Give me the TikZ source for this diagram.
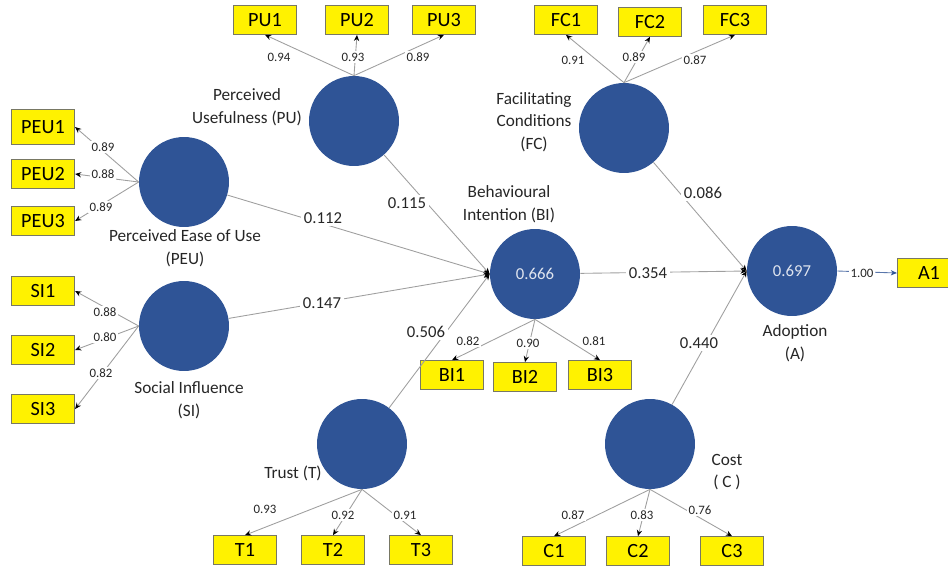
\documentclass[tikz,border=0pt]{standalone}
\usepackage{fontspec}
\setmainfont{Carlito}
\usetikzlibrary{arrows.meta}
\definecolor{lvblue}{RGB}{47,84,150}
\definecolor{boxline}{RGB}{120,120,100}

\begin{document}
\begin{tikzpicture}[x=0.02cm,y=-0.02cm,font=\fontsize{9.8}{12.8}\selectfont,
    latent/.style={circle,fill=lvblue,minimum size=1.8cm,inner sep=0pt,text=white!85!lvblue,font=\fontsize{9.5}{11}\selectfont},
    indic/.style={draw=boxline,fill=yellow,minimum width=1.27cm,minimum height=0.58cm,inner sep=0pt,font=\fontsize{11.5}{12}\selectfont},
    load/.style={fill=white,inner sep=1pt,text=black!85,font=\fontsize{7.3}{8}\selectfont},
    coef/.style={fill=white,inner sep=1.5pt,text=black!85,font=\fontsize{9.5}{10}\selectfont},
    lvname/.style={align=center,text=black!85},
    edge/.style={draw=gray!75,line width=0.5pt,-{Stealth[black,length=3.5pt,width=3pt]}}]
                \useasboundingbox (0,0) rectangle (948,566);
                \clip (0,0) rectangle (948,566);
                % latent variables
                \node[latent] (PEU) at (184,182) {};
                \node[latent] (SI) at (184,326) {};
                \node[latent] (PU) at (354,121) {};
                \node[latent] (FC) at (624,128) {};
                \node[latent] (BI) at (535,274) {0.666};
                \node[latent] (A) at (792,271) {0.697};
                \node[latent] (T) at (362,444) {};
                \node[latent] (C) at (650,444) {};
                % indicators
                \node[indic,minimum height=0.7cm] (PEU1) at (43,127) {PEU1};
                \node[indic] (PEU2) at (43,174) {PEU2};
                \node[indic] (PEU3) at (43,221) {PEU3};
                \node[indic] (SI1) at (43,291) {SI1};
                \node[indic] (SI2) at (43,350) {SI2};
                \node[indic] (SI3) at (43,409) {SI3};
                \node[indic] (PU1) at (265,20) {PU1};
                \node[indic] (PU2) at (357,20) {PU2};
                \node[indic] (PU3) at (444,20) {PU3};
                \node[indic] (FC1) at (566,20) {FC1};
                \node[indic] (FC2) at (650,22) {FC2};
                \node[indic] (FC3) at (735,20) {FC3};
                \node[indic] (BI1) at (452,375) {BI1};
                \node[indic] (BI2) at (525,377) {BI2};
                \node[indic] (BI3) at (600,375) {BI3};
                \node[indic] (A1) at (929,273) {A1};
                \node[indic] (T1) at (245,550) {T1};
                \node[indic] (T2) at (333,550) {T2};
                \node[indic] (T3) at (421,550) {T3};
                \node[indic] (C1) at (554,551) {C1};
                \node[indic] (C2) at (638,551) {C2};
                \node[indic] (C3) at (732,551) {C3};
                % outer model
                \foreach \i in {1,2,3} {
                    \draw[edge] (PEU.west) -- (PEU\i.east);
                    \draw[edge] (SI.west) -- (SI\i.east);
                    \draw[edge] (PU.north) -- (PU\i.south);
                    \draw[edge] (FC.north) -- (FC\i.south);
                    \draw[edge] (BI.south) -- (BI\i.north);
                    \draw[edge] (T.south) -- (T\i.north);
                    \draw[edge] (C.south) -- (C\i.north);
                }
                \draw[draw=lvblue!80,line width=0.5pt,-{Stealth[lvblue,length=3.5pt,width=3pt]}] (A.east) -- (A1.west);
                % inner model
                \draw[edge] (PEU) -- (BI.west);
                \draw[edge] (PU) -- (BI.west);
                \draw[edge] (SI) -- (BI.west);
                \draw[edge] (T) -- (BI.west);
                \draw[edge] (BI) -- (A.west);
                \draw[edge] (FC) -- (A.west);
                \draw[edge] (C) -- (A.west);
                % loadings
                \node[load] (lPEU1) at (103,147) {0.89};
                \node[load] (lPEU2) at (103,174) {0.88};
                \node[load] (lPEU3) at (101,207) {0.89};
                \node[load] (lSI1) at (105,312) {0.88};
                \node[load] (lSI2) at (105,337) {0.80};
                \node[load] (lSI3) at (101,373) {0.82};
                \node[load] (lPU1) at (279,57) {0.94};
                \node[load] (lPU2) at (353,57) {0.93};
                \node[load] (lPU3) at (418,57) {0.89};
                \node[load] (lFC1) at (573,60) {0.91};
                \node[load] (lFC2) at (634,57) {0.89};
                \node[load] (lFC3) at (695,60) {0.87};
                \node[load] (lBI1) at (468,341) {0.82};
                \node[load] (lBI2) at (528,343) {0.90};
                \node[load] (lBI3) at (594,341) {0.81};
                \node[load] (lT1) at (265,509) {0.93};
                \node[load] (lT2) at (343,515) {0.92};
                \node[load] (lT3) at (405,515) {0.91};
                \node[load] (lC1) at (573,515) {0.87};
                \node[load] (lC2) at (642,515) {0.83};
                \node[load] (lC3) at (700,510) {0.76};
                \node[load] (lA1) at (862,273) {1.00};
                % path coefficients
                \node[coef] (cPEU) at (323,218) {0.112};
                \node[coef] (cPU) at (407,203) {0.115};
                \node[coef] (cSI) at (322,303) {0.147};
                \node[coef] (cT) at (426,332) {0.506};
                \node[coef] (cBI) at (648,273) {0.354};
                \node[coef] (cFC) at (703,193) {0.086};
                \node[coef] (cC) at (699,343) {0.440};
                % construct names
                \node[lvname] (nPU) at (247,107) {Perceived\\Usefulness (PU)};
                \node[lvname] (nPEU) at (185,248) {Perceived Ease of Use\\(PEU)};
                \node[lvname] (nSI) at (189,400) {Social Influence\\(SI)};
                \node[lvname] (nBI) at (509,204) {Behavioural\\Intention (BI)};
                \node[lvname] (nFC) at (534,122) {Facilitating\\Conditions\\(FC)};
                \node[lvname] (nA) at (795,343) {Adoption\\(A)};
                \node[lvname] (nT) at (293,473) {Trust (T)};
                \node[lvname] (nC) at (727,472) {Cost\\( C )};
            \end{tikzpicture}
\end{document}
